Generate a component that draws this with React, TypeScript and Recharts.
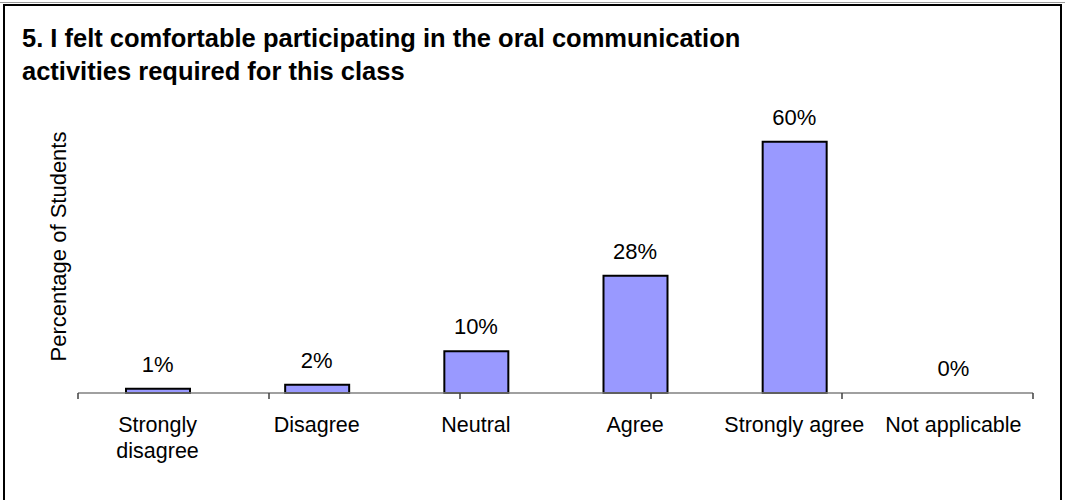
import { ComposedChart, Bar, Line, XAxis, YAxis, LabelList } from 'recharts'

const categories = ['Strongly disagree', 'Disagree', 'Neutral', 'Agree', 'Strongly agree', 'Not applicable']
const percents = [1, 2, 10, 28, 60, 0]
const tickLines: Record<string, string[]> = {
  'Strongly disagree': ['Strongly', 'disagree'],
}
const edges = [0, 1, 2, 3, 4, 5, 6]

const data = categories.map((name, i) => ({ name, value: percents[i] }))

const FONT = '"Liberation Sans", Arial, sans-serif'

function CategoryTick({ x, y, payload }: any) {
  const lines = tickLines[payload.value] ?? [payload.value]
  return (
    <text x={x} y={y + 38} textAnchor="middle" fontSize={21.5} fill="#000" fontFamily={FONT}>
      {lines.map((l, i) => (
        <tspan key={l} x={x} dy={i === 0 ? 0 : 26}>
          {l}
        </tspan>
      ))}
    </text>
  )
}

export default function App() {
  return (
    <div style={{ position: 'absolute', left: 0, top: 0, width: 1065, height: 500, background: '#fff', overflow: 'hidden' }}>
      <div style={{ position: 'absolute', left: 0, top: 2, width: 1065, height: 1, background: '#999' }} />
      <div style={{ position: 'absolute', left: 3, top: 4, width: 1059, height: 510, border: '2px solid #000', boxSizing: 'border-box' }} />
      <div
        style={{
          position: 'absolute',
          left: 22,
          top: 22,
          fontFamily: FONT,
          fontWeight: 'bold',
          fontSize: 25.5,
          lineHeight: '33px',
          whiteSpace: 'nowrap',
          color: '#000',
        }}
      >
        5. I felt comfortable participating in the oral communication
        <br />
        activities required for this class
      </div>
      <div style={{ position: 'absolute', left: 0, top: 0 }}>
        <ComposedChart width={1065} height={500} data={data} margin={{ top: 100, right: 32, left: 0, bottom: 0 }}>
          <YAxis
            domain={[0, 70]}
            width={78}
            axisLine={false}
            tickLine={false}
            tick={false}
            label={{
              content: ({ viewBox }: any) => {
                const cx = viewBox.x + 58
                const cy = viewBox.y + viewBox.height / 2
                return (
                  <text
                    x={cx}
                    y={cy}
                    transform={`rotate(-90 ${cx} ${cy})`}
                    textAnchor="middle"
                    dominantBaseline="central"
                    fontSize={22}
                    fontFamily={FONT}
                    fill="#000"
                  >
                    Percentage of Students
                  </text>
                )
              },
            }}
          />
          <XAxis
            xAxisId="b"
            dataKey="name"
            height={106}
            axisLine={false}
            tickLine={false}
            tickSize={0}
            tickMargin={0}
            interval={0}
            tick={<CategoryTick />}
          />
          <XAxis
            xAxisId="a"
            type="number"
            domain={[0, 6]}
            ticks={edges}
            height={1}
            tickSize={6}
            tickFormatter={() => ''}
            axisLine={{ stroke: '#808080', strokeWidth: 1.5 }}
            tickLine={{ stroke: '#404040', strokeWidth: 1.5 }}
          />
          <Bar
            xAxisId="b"
            dataKey="value"
            fill="#9999FF"
            stroke="#000"
            strokeWidth={2}
            barSize={64}
            isAnimationActive={false}
          />
          <Line
            xAxisId="b"
            dataKey="value"
            stroke="none"
            dot={false}
            activeDot={false}
            isAnimationActive={false}
          >
            <LabelList
              dataKey="value"
              position="top"
              offset={17}
              formatter={(v: any) => `${v}%`}
              style={{ fontSize: 22, fontFamily: FONT, fill: '#000' }}
            />
          </Line>
        </ComposedChart>
      </div>
    </div>
  )
}
